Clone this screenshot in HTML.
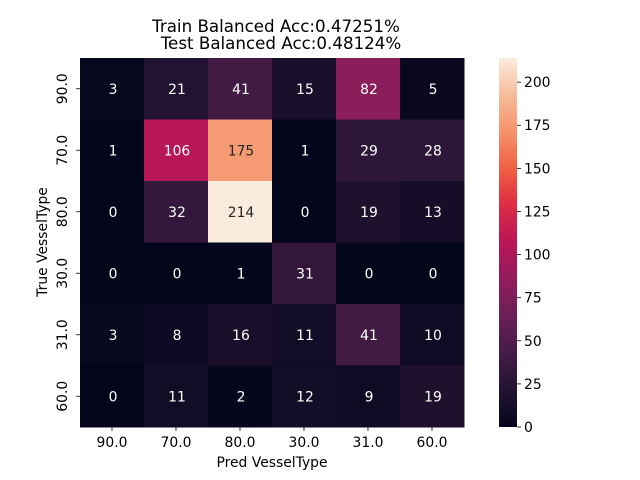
<!DOCTYPE html>
<html><head><meta charset="utf-8"><style>
body{margin:0;background:#fff;}
svg{font-family:"DejaVu Sans","Liberation Sans",sans-serif;display:block}
</style></head><body>
<svg id="chart" width="640" height="480" viewBox="0 0 640 480">
<defs>
<linearGradient id="rocket" x1="0" y1="1" x2="0" y2="0">
<stop offset="0" stop-color="#03051a"/><stop offset="0.1" stop-color="#221331"/><stop offset="0.2" stop-color="#451c47"/><stop offset="0.3" stop-color="#6a1f56"/><stop offset="0.4" stop-color="#921c5b"/><stop offset="0.5" stop-color="#b91657"/><stop offset="0.6" stop-color="#dd2c45"/><stop offset="0.7" stop-color="#f06043"/><stop offset="0.8" stop-color="#f5936a"/><stop offset="0.9" stop-color="#f6bc99"/><stop offset="1" stop-color="#faebdd"/>
</linearGradient>
</defs>
<text x="276" y="32" font-size="16.7" text-anchor="middle">Train Balanced Acc:0.47251%</text>
<text x="281" y="49" font-size="16.7" text-anchor="middle">Test Balanced Acc:0.48124%</text>
<g id="cells"></g>
<g id="axes"></g>
<text x="272" y="467" font-size="13.9" text-anchor="middle">Pred VesselType</text>
<text transform="translate(47,242) rotate(-90)" font-size="13.9" text-anchor="middle">True VesselType</text>
<rect x="499" y="58" width="18" height="369" fill="url(#rocket)"/>
<g id="cbar"></g>
</svg>
<script>
const labels = ["90.0","70.0","80.0","30.0","31.0","60.0"];
const matrix = [
 [3,21,41,15,82,5],
 [1,106,175,1,29,28],
 [0,32,214,0,19,13],
 [0,0,1,31,0,0],
 [3,8,16,11,41,10],
 [0,11,2,12,9,19]
];
const cbarTicks = [0,25,50,75,100,125,150,175,200];
const vmax = 214;
const stops = [[3,5,26],[34,19,49],[69,28,71],[106,31,86],[146,28,91],[185,22,87],[221,44,69],[240,96,67],[245,147,106],[246,188,153],[250,235,221]];
function cmap(t){t=Math.max(0,Math.min(1,t))*10;const i=Math.min(9,Math.floor(t)),f=t-i;const a=stops[i],b=stops[i+1];
 const c=a.map((v,k)=>Math.round(v+(b[k]-v)*f));return {s:`rgb(${c[0]},${c[1]},${c[2]})`,l:(0.299*c[0]+0.587*c[1]+0.114*c[2])/255};}
const X0=80,W=384,Y0=58,H=369;
const cw=W/labels.length, ch=H/labels.length;
const xs=i=>X0+i*cw, ys=i=>Y0+i*ch, cy=v=>427-v/vmax*369;
const NS="http://www.w3.org/2000/svg";
function mk(tag,attrs,parent){const e=document.createElementNS(NS,tag);for(const k in attrs)e.setAttribute(k,attrs[k]);parent.appendChild(e);return e;}
const cells=document.getElementById('cells'), axes=document.getElementById('axes'), cbar=document.getElementById('cbar');
matrix.forEach((row,r)=>row.forEach((v,c)=>{
 const col=cmap(v/vmax);
 const rc=mk('rect',{x:xs(c),y:ys(r),width:cw+0.5,height:ch+0.5,fill:col.s},cells);
 
 
 const t=mk('text',{x:xs(c)+cw/2+1,y:ys(r)+ch/2+5,'font-size':13.9,'text-anchor':'middle',fill:col.l>0.55?'#262626':'#fff'},cells);
 t.textContent=v;
 
 
}));
labels.forEach((lab,i)=>{
 const x=xs(i)+cw/2;
 mk('line',{x1:x,x2:x,y1:427,y2:431,stroke:'#000','stroke-width':0.8},axes);
 const t=mk('text',{x:x,y:447,'font-size':13.9,'text-anchor':'middle'},axes);
 t.textContent=lab;
 
 
 const y=ys(i)+ch/2;
 mk('line',{x1:76,x2:80,y1:y,y2:y,stroke:'#000','stroke-width':0.8},axes);
 const u=mk('text',{transform:`translate(67,${y}) rotate(-90)`,'font-size':13.9,'text-anchor':'middle'},axes);
 u.textContent=lab;
 
 
});
cbarTicks.forEach(v=>{
 const y=cy(v);
 mk('line',{x1:517,x2:521,y1:y,y2:y,stroke:'#000','stroke-width':0.8},cbar);
 const t=mk('text',{x:524,y:y+5,'font-size':13.9},cbar);
 t.textContent=v;
 
 
});
</script>
</body></html>
